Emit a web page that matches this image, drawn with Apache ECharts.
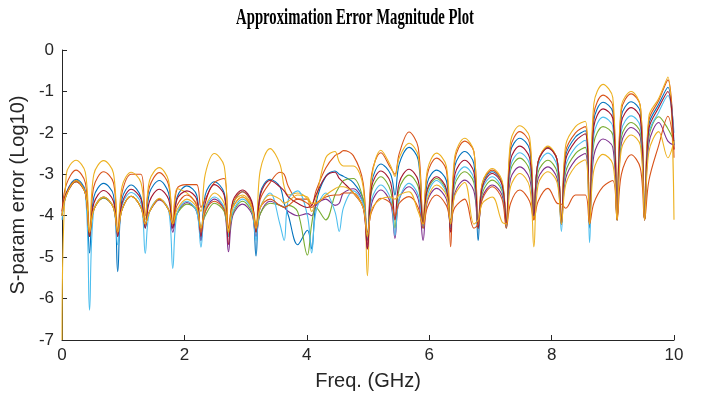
<!DOCTYPE html>
<html><head><meta charset="utf-8">
<script src="https://cdn.jsdelivr.net/npm/echarts@6/dist/echarts.min.js"></script>
<style>html,body{margin:0;padding:0;background:#fff}#c{width:706px;height:396px}</style>
</head><body><div id="c"></div>
<script>
// Frequency grid (GHz)
const freq = [0.00,
 0.07,0.23,0.38,
 0.45,0.52,0.68,0.84, 0.91,0.98,1.13,1.29, 1.36,1.43,1.59,1.74, 1.81,1.88,2.04,2.20,
 2.27,2.34,2.49,2.65, 2.72,2.79,2.95,3.10, 3.17,3.24,3.40,3.56, 3.63,3.70,3.85,4.01,
 4.08,4.15,4.31,4.46, 4.53,4.60,4.76,4.92, 4.99,5.06,5.21,5.37, 5.44,5.51,5.67,5.82,
 5.90,5.97,6.12,6.28, 6.35,6.42,6.58,6.73, 6.80,6.87,7.03,7.19, 7.26,7.33,7.48,7.64,
 7.71,7.78,7.94,8.09, 8.16,8.23,8.39,8.55, 8.62,8.69,8.84,9.00, 9.07,9.14,9.30,9.45,
 9.52,9.59,9.75,9.90, 10.00];

const blue1 = [-4.0,
 -3.45,-3.12,-3.4,
 -4.9,-3.55,-3.22,-3.5, -5.35,-3.6,-3.26,-3.55, -4.3,-3.45,-3.15,-3.45, -4.3,-3.55,-3.28,-3.5,
 -4.6,-3.5,-3.18,-3.45, -4.5,-3.75,-3.42,-3.7, -4.97,-3.45,-3.12,-3.3, -3.7,-4.0,-4.7,-4.35,
 -4.8,-3.7,-3.05,-2.92, -3.0,-3.05,-3.2,-3.6, -4.6,-3.2,-2.75,-3.0, -3.5,-2.75,-2.35,-2.65,
 -4.3,-3.2,-2.9,-3.15, -4.3,-2.8,-2.45,-2.75, -4.6,-3.25,-2.94,-3.2, -4.3,-2.45,-2.13,-2.4,
 -3.95,-2.7,-2.35,-2.65, -4.2,-2.55,-2.1,-1.95, -4.3,-1.7,-1.26,-1.5, -4.1,-1.6,-1.25,-1.5,
 -4.1,-1.8,-1.31,-0.9, -2.3];

const orange1 = [-3.9,
 -3.25,-2.90,-3.2,
 -4.4,-3.3,-2.94,-3.2, -4.4,-3.45,-3.0,-3.0, -4.0,-3.3,-2.96,-3.25, -4.2,-3.35,-3.25,-3.25,
 -3.8,-3.6,-3.2,-3.1, -4.3,-3.7,-3.42,-3.7, -4.3,-3.6,-3.2,-2.95, -3.0,-3.3,-3.6,-3.6,
 -3.75,-3.4,-2.85,-2.55, -2.5,-2.43,-2.55,-3.2, -4.7,-3.0,-2.48,-2.85, -3.0,-2.5,-1.98,-2.35,
 -4.2,-3.0,-2.61,-2.9, -4.75,-2.65,-2.2,-2.45, -4.3,-3.2,-2.9,-3.2, -4.2,-2.35,-1.97,-2.25,
 -4.1,-2.7,-2.34,-2.65, -4.2,-2.45,-2.0,-1.85, -4.2,-1.55,-1.09,-1.35, -4.1,-1.45,-1.06,-1.35,
 -4.1,-1.7,-1.22,-0.72, -2.6];

const yellow1 = [-7.0,
 -3.0,-2.66,-2.95,
 -4.4,-3.0,-2.67,-2.97, -4.5,-3.3,-2.95,-3.2, -4.1,-3.15,-2.84,-3.15, -4.2,-3.35,-3.45,-3.7,
 -3.9,-3.0,-2.5,-2.8, -4.4,-3.7,-3.5,-3.75, -4.2,-2.9,-2.38,-2.75, -3.3,-3.5,-3.45,-3.6,
 -3.9,-3.6,-2.6,-2.45, -2.7,-2.8,-2.8,-3.3, -5.45,-3.1,-2.42,-2.8, -3.05,-2.6,-2.25,-2.55,
 -4.2,-2.9,-2.49,-2.8, -4.3,-2.55,-2.13,-2.45, -4.3,-3.2,-2.86,-3.15, -4.2,-2.2,-1.83,-2.1,
 -4.1,-2.7,-2.32,-2.65, -4.2,-2.3,-1.85,-1.72, -4.2,-1.3,-0.83,-1.15, -4.1,-1.35,-1.0,-1.35,
 -4.1,-1.6,-1.17,-0.65, -4.1];

const purple = [-4.0,
 -3.5,-3.18,-3.45,
 -4.5,-3.85,-3.57,-3.8, -4.5,-3.85,-3.53,-3.8, -4.2,-3.9,-3.62,-3.85, -4.4,-3.95,-3.68,-3.9,
 -4.6,-3.9,-3.6,-3.85, -4.87,-4.0,-3.72,-3.95, -4.5,-3.95,-3.65,-3.75, -3.8,-3.9,-4.0,-3.95,
 -4.0,-3.75,-3.6,-3.75, -3.7,-3.45,-3.35,-3.7, -4.8,-3.7,-3.38,-3.7, -4.55,-3.6,-3.3,-3.6,
 -4.6,-3.65,-3.34,-3.6, -4.3,-3.45,-3.14,-3.4, -4.3,-3.55,-3.26,-3.5, -4.2,-3.1,-2.82,-3.1,
 -4.0,-3.1,-2.82,-3.1, -4.2,-3.1,-2.65,-2.5, -4.2,-2.55,-2.15,-2.35, -4.1,-2.25,-1.87,-2.1,
 -4.1,-2.25,-1.75,-2.2, -2.3];

const green = [-4.0,
 -3.5,-3.17,-3.45,
 -4.5,-3.85,-3.57,-3.8, -4.4,-3.85,-3.53,-3.8, -4.2,-3.9,-3.6,-3.85, -4.2,-3.95,-3.72,-3.85,
 -4.3,-4.0,-3.7,-3.9, -4.5,-3.95,-3.65,-3.9, -4.4,-3.95,-3.7,-3.75, -3.8,-3.75,-3.9,-4.95,
 -4.2,-3.8,-4.1,-3.5, -3.3,-3.15,-3.1,-3.6, -4.5,-3.4,-3.06,-3.4, -4.3,-3.35,-3.02,-3.3,
 -4.2,-3.4,-3.1,-3.4, -4.3,-3.25,-2.94,-3.2, -4.3,-3.45,-3.14,-3.4, -4.2,-2.9,-2.61,-2.9,
 -4.0,-2.95,-2.66,-2.95, -4.2,-2.95,-2.5,-2.35, -4.2,-2.25,-1.85,-2.05, -4.1,-2.1,-1.75,-2.0,
 -4.1,-2.1,-1.61,-1.9, -2.2];

const lightblue = [-4.1,
 -3.5,-3.15,-3.45,
 -6.28,-3.85,-3.55,-3.8, -4.7,-3.75,-3.44,-3.7, -4.91,-3.9,-3.6,-3.85, -5.27,-3.95,-3.65,-3.9,
 -4.76,-3.85,-3.55,-3.8, -4.5,-3.9,-3.6,-3.85, -4.6,-3.8,-3.45,-4.2, -4.6,-3.6,-3.4,-4.0,
 -4.9,-3.9,-3.45,-3.9, -4.38,-3.8,-3.4,-3.7, -4.4,-3.6,-3.26,-3.6, -4.48,-3.6,-3.22,-3.5,
 -4.3,-3.5,-3.15,-3.45, -4.3,-3.15,-2.82,-3.1, -4.3,-3.35,-3.06,-3.35, -4.3,-2.8,-2.48,-2.75,
 -4.0,-2.8,-2.49,-2.8, -4.38,-2.8,-2.35,-2.18, -4.65,-2.05,-1.62,-1.85, -4.1,-1.95,-1.59,-1.85,
 -4.1,-2.0,-1.5,-1.1, -2.0];

const darkred = [-3.9,
 -3.45,-3.15,-3.45,
 -4.5,-3.7,-3.39,-3.65, -4.5,-3.7,-3.36,-3.6, -4.3,-3.65,-3.36,-3.6, -4.3,-3.6,-3.4,-3.6,
 -4.5,-3.7,-3.25,-3.5, -4.7,-3.65,-3.38,-3.65, -4.4,-3.5,-3.15,-3.3, -3.4,-3.55,-3.7,-3.8,
 -3.75,-3.5,-3.05,-2.95, -3.1,-3.2,-3.45,-3.8, -4.8,-3.3,-2.92,-3.2, -4.1,-3.2,-2.88,-3.15,
 -4.2,-3.35,-3.06,-3.35, -4.4,-3.0,-2.66,-2.95, -4.3,-3.3,-2.98,-3.25, -4.2,-2.65,-2.32,-2.6,
 -4.0,-2.7,-2.37,-2.65, -4.2,-2.65,-2.2,-2.02, -4.2,-1.85,-1.42,-1.65, -4.1,-1.75,-1.39,-1.65,
 -4.1,-1.9,-1.39,-1.0, -2.4];

const orange2 = [-4.0,
 -3.5,-3.18,-3.45,
 -4.4,-3.85,-3.55,-3.8, -4.4,-3.85,-3.53,-3.8, -4.2,-3.9,-3.6,-3.85, -4.2,-3.75,-3.5,-3.75,
 -4.4,-3.9,-3.65,-3.85, -4.3,-3.8,-3.55,-3.8, -4.3,-3.8,-3.6,-3.75, -3.8,-3.75,-3.6,-3.7,
 -3.8,-3.7,-3.55,-3.5, -3.5,-3.45,-3.45,-3.8, -4.4,-3.9,-3.58,-3.7, -4.0,-3.7,-3.54,-3.8,
 -4.3,-3.8,-3.5,-3.75, -4.1,-3.8,-3.6,-4.3, -4.2,-3.6,-3.3,-3.6, -4.3,-3.7,-3.38,-3.65,
 -4.1,-3.65,-3.34,-3.7, -3.72,-3.82,-3.5,-3.5, -4.2,-3.7,-3.3,-3.15, -4.1,-3.0,-2.53,-2.85,
 -4.1,-3.15,-2.3,-1.6, -2.4];

const yellow2 = [-4.0,
 -3.5,-3.15,-3.45,
 -4.4,-3.85,-3.55,-3.8, -4.4,-3.85,-3.53,-3.8, -4.2,-3.9,-3.58,-3.85, -4.2,-3.85,-3.6,-3.8,
 -4.3,-3.8,-3.45,-3.7, -4.4,-3.8,-3.55,-3.8, -4.3,-3.8,-3.5,-3.6, -3.7,-3.65,-3.5,-3.55,
 -3.7,-3.7,-3.5,-3.35, -3.3,-3.3,-3.45,-3.8, -4.5,-3.85,-3.6,-3.55, -3.6,-3.5,-3.42,-3.9,
 -4.2,-3.6,-3.26,-3.5, -4.2,-3.5,-3.2,-4.2, -4.1,-3.7,-3.55,-4.15, -4.2,-3.3,-2.98,-3.3,
 -4.75,-3.25,-2.94,-3.2, -4.2,-3.25,-2.8,-2.65, -4.2,-2.9,-2.52,-2.75, -4.1,-2.4,-2.05,-2.3,
 -4.1,-2.45,-1.97,-2.6, -2.2];

const xTicks = [0, 2, 4, 6, 8, 10];
const yTicks = [-7, -6, -5, -4, -3, -2, -1, 0];
const titleText = 'Approximation Error Magnitude Plot';

const seriesDefs = [
  {name:'1', data: blue1, color:'#0072BD'},
  {name:'2', data: orange1, color:'#D95319'},
  {name:'3', data: yellow1, color:'#EDB120'},
  {name:'4', data: purple, color:'#7E2F8E'},
  {name:'5', data: green, color:'#77AC30'},
  {name:'6', data: lightblue, color:'#4DBEEE'},
  {name:'7', data: darkred, color:'#A2142F'},
  {name:'8', data: orange2, color:'#D95319'},
  {name:'9', data: yellow2, color:'#EDB120'}
];

const chart = echarts.init(document.getElementById('c'), null, {renderer:'canvas'});
const axisCol = '#262626';
const sans = '"Liberation Sans", Arial, Helvetica, sans-serif';
chart.setOption({
  animation: false,
  backgroundColor: '#fff',
  graphic: [{
    type: 'text', x: 355, y: 7, scaleX: 0.64, scaleY: 1.0, originX: 0, originY: 0,
    style: {
      text: titleText, x: 0, y: 0, textAlign: 'center', textVerticalAlign: 'top',
      font: 'bold 23px "Liberation Serif", "Times New Roman", serif', fill: '#000'
    }
  }],
  grid: {left: 62, right: 32, top: 50, bottom: 56, containLabel: false},
  xAxis: {
    type: 'value', min: xTicks[0], max: xTicks[xTicks.length-1], interval: 2,
    name: 'Freq. (GHz)', nameLocation: 'middle', nameGap: 31,
    nameTextStyle: {fontFamily: sans, fontSize: 20, color: axisCol},
    axisLine: {show: true, onZero: false, lineStyle: {color: axisCol, width: 1}},
    axisTick: {show: true, inside: true, length: 5, lineStyle: {color: axisCol}},
    axisLabel: {fontFamily: sans, fontSize: 17, color: axisCol, margin: 7},
    splitLine: {show: false}
  },
  yAxis: {
    type: 'value', min: yTicks[0], max: yTicks[yTicks.length-1], interval: 1,
    name: 'S-param error (Log10)', nameLocation: 'middle', nameGap: 30,
    nameTextStyle: {fontFamily: sans, fontSize: 20, color: axisCol},
    axisLine: {show: true, onZero: false, lineStyle: {color: axisCol, width: 1}},
    axisTick: {show: true, inside: true, length: 5, lineStyle: {color: axisCol}},
    axisLabel: {fontFamily: sans, fontSize: 17, color: axisCol, margin: 8},
    splitLine: {show: false}
  },
  series: seriesDefs.map(s => ({
    type: 'line', name: s.name,
    data: freq.map((f, i) => [f, s.data[i]]),
    showSymbol: false, symbol: 'none', smooth: 0.35,
    lineStyle: {color: s.color, width: 1.1},
    itemStyle: {color: s.color},
    clip: true
  }))
});
</script></body></html>
